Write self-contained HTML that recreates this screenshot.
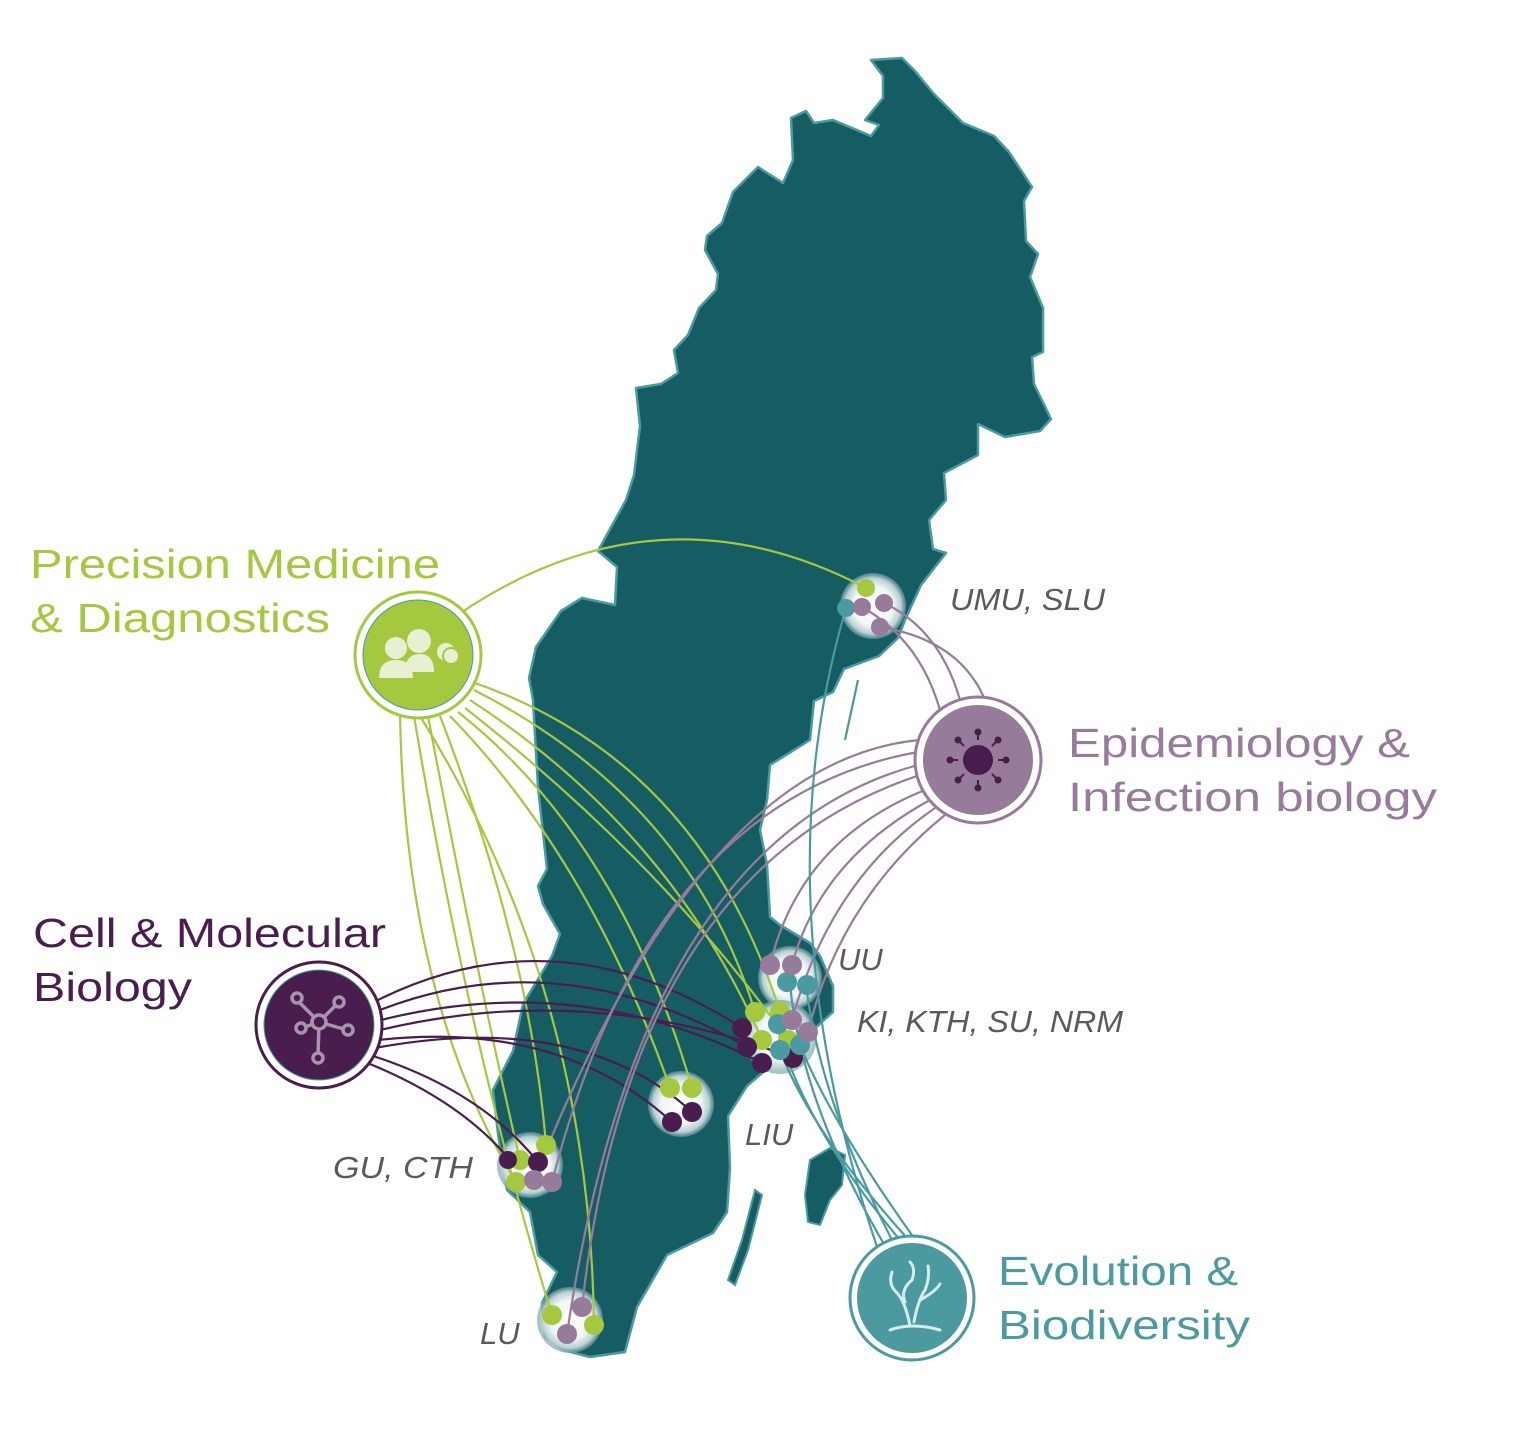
<!DOCTYPE html>
<html><head><meta charset="utf-8"><style>
html,body{margin:0;padding:0;background:#fff;}
svg{display:block;}
.t{font-family:"Liberation Sans",sans-serif;}
.lab{font-family:"Liberation Sans",sans-serif;font-style:italic;font-size:31px;fill:#5a5a5a;}
</style></head><body>
<svg width="1536" height="1447" viewBox="0 0 1536 1447" xmlns="http://www.w3.org/2000/svg">
<defs>
<radialGradient id="g" cx="50%" cy="50%" r="50%">
<stop offset="0" stop-color="#fff"/><stop offset="0.6" stop-color="#f2f6f6"/><stop offset="0.85" stop-color="#b9d0d2"/><stop offset="1" stop-color="#6f9ea2" stop-opacity="0.6"/>
</radialGradient>
</defs>
<path fill="#155c63" stroke="#4a9aa0" stroke-width="2.5" stroke-linejoin="round" d="M871,60 L902,58 915,71 934,94 963,123 994,136 1009,152 1032,187 1024,201 1026,241 1038,254 1030,277 1043,308 1043,352 1032,357 1034,384 1051,419 1040,431 1005,437 978,424 978,455 944,473 946,500 929,520 933,549 946,553 921,585 905,620 898,638 879,656 844,669 833,692 814,701 810,740 770,765 767,800 760,830 767,865 770,917 780,925 810,943 820,956 833,986 833,1012 813,1030 797,1064 780,1060 767,1069 747,1086 728,1116 730,1168 727,1212 713,1233 667,1255 637,1307 625,1352 590,1357 563,1350 545,1337 542,1303 557,1272 538,1255 530,1212 507,1190 498,1134 493,1090 513,1051 523,1004 552,956 560,934 543,904 538,886 547,869 538,787 533,700 529,678 536,647 561,611 582,598 615,605 617,567 598,551 626,500 634,475 640,426 636,388 661,384 678,373 674,350 688,335 699,308 716,290 718,274 705,250 707,236 722,223 733,192 758,167 783,183 793,160 791,118 806,111 814,123 833,120 871,136 879,125 865,120 883,98 883,76 Z"/>
<path fill="#155c63" stroke="#4a9aa0" stroke-width="2" d="M810,1160 L830,1148 845,1155 842,1185 830,1200 820,1225 808,1222 805,1195 Z"/>
<path fill="#155c63" stroke="#4a9aa0" stroke-width="2" d="M755,1190 L762,1195 748,1250 735,1285 728,1280 742,1240 Z"/>

<g fill="url(#g)">
<circle cx="873" cy="606" r="33"/><circle cx="790" cy="978" r="32"/><circle cx="780" cy="1037" r="37"/>
<circle cx="681" cy="1104" r="33"/><circle cx="530" cy="1165" r="33"/><circle cx="570" cy="1320" r="33"/>
</g>

<g fill="none" stroke="#a6c83f" stroke-width="2.2">
<path d="M462,612 Q660,480 866,588"/>
<path d="M472,682 Q700,760 780,1012"/>
<path d="M474,690 Q690,800 755,1012"/>
<path d="M470,700 Q670,830 762,1040"/>
<path d="M465,708 Q660,860 788,1040"/>
<path d="M458,712 Q620,840 692,1088"/>
<path d="M450,716 Q590,860 670,1088"/>
<path d="M440,716 Q530,950 546,1145"/>
<path d="M428,716 Q480,990 520,1160"/>
<path d="M400,714 Q405,1000 516,1182"/>
<path d="M414,716 Q470,1050 552,1315"/>
<path d="M420,716 Q590,990 594,1325"/>
</g>
<g fill="none" stroke="#4a1d4f" stroke-width="2.2">
<path d="M378,1000 Q560,910 742,1028"/>
<path d="M380,1010 Q560,940 747,1047"/>
<path d="M381,1020 Q580,970 762,1063"/>
<path d="M380,1030 Q590,980 793,1058"/>
<path d="M378,1040 Q560,1020 672,1122"/>
<path d="M375,1048 Q580,1010 692,1112"/>
<path d="M370,1055 Q480,1090 538,1162"/>
<path d="M365,1062 Q460,1100 510,1160"/>
</g>
<g fill="none" stroke="#977b9a" stroke-width="2.2">
<path d="M940,710 Q920,640 862,607"/>
<path d="M960,700 Q940,630 884,603"/>
<path d="M985,700 Q960,640 880,627"/>
<path d="M920,740 Q700,760 534,1180"/>
<path d="M918,752 Q650,800 552,1182"/>
<path d="M918,765 Q640,840 567,1334"/>
<path d="M920,775 Q630,870 582,1307"/>
<path d="M925,790 Q800,840 770,965"/>
<path d="M930,800 Q820,860 792,965"/>
<path d="M935,808 Q830,880 792,1020"/>
<path d="M945,815 Q840,900 808,1032"/>
</g>
<g fill="none" stroke="#4a9aa0" stroke-width="2.2">
<path d="M878,1250 Q760,900 846,608"/>
<path d="M885,1246 Q800,1100 790,983"/>
<path d="M893,1242 Q820,1100 806,985"/>
<path d="M900,1240 Q800,1120 777,1025"/>
<path d="M907,1238 Q810,1130 780,1050"/>
<path d="M914,1238 Q830,1120 800,1045"/>
<path d="M845,740 L858,680"/>
</g>

<g fill="#a6c83f">
<circle cx="866" cy="588" r="9"/><circle cx="755" cy="1012" r="10"/><circle cx="780" cy="1012" r="10"/><circle cx="762" cy="1040" r="10"/><circle cx="788" cy="1040" r="10"/>
<circle cx="670" cy="1088" r="10"/><circle cx="692" cy="1088" r="10"/><circle cx="546" cy="1145" r="10"/><circle cx="520" cy="1160" r="10"/><circle cx="516" cy="1182" r="10"/>
<circle cx="552" cy="1315" r="10"/><circle cx="594" cy="1325" r="10"/>
</g>
<g fill="#4a1d4f">
<circle cx="742" cy="1028" r="10"/><circle cx="747" cy="1047" r="10"/><circle cx="762" cy="1063" r="10"/><circle cx="793" cy="1058" r="10"/>
<circle cx="672" cy="1122" r="10"/><circle cx="692" cy="1112" r="10"/><circle cx="538" cy="1162" r="10"/><circle cx="508" cy="1160" r="9"/>
</g>
<g fill="#4a9aa0">
<circle cx="846" cy="608" r="9"/><circle cx="787" cy="982" r="10"/><circle cx="807" cy="985" r="10"/>
<circle cx="778" cy="1024" r="10"/><circle cx="780" cy="1050" r="10"/><circle cx="800" cy="1045" r="10"/>
</g>
<g fill="#977b9a">
<circle cx="862" cy="607" r="9"/><circle cx="884" cy="603" r="9"/><circle cx="880" cy="627" r="9"/>
<circle cx="770" cy="965" r="10"/><circle cx="792" cy="965" r="10"/><circle cx="792" cy="1020" r="10"/><circle cx="808" cy="1032" r="10"/>
<circle cx="534" cy="1180" r="10"/><circle cx="552" cy="1182" r="10"/><circle cx="567" cy="1334" r="10"/><circle cx="582" cy="1307" r="10"/>
</g>

<circle cx="418" cy="655" r="63" fill="#fff" stroke="#a6c83f" stroke-width="3"/>
<circle cx="418" cy="655" r="55" fill="#a6c83f" stroke="#4a9aa0" stroke-width="1"/>
<g fill="#e8f0d4">
<circle cx="396" cy="648" r="11"/><path d="M379,678 Q379,660 396,660 Q413,660 413,678 Z"/>
<circle cx="419" cy="641" r="12"/><path d="M405,672 Q405,654 420,654 Q434,654 434,672 Z"/>
<circle cx="446" cy="652" r="9"/><circle cx="451" cy="656" r="8" stroke="#a6c83f" stroke-width="2"/>
</g>

<circle cx="978" cy="760" r="63" fill="#fff" stroke="#977b9a" stroke-width="3"/>
<circle cx="978" cy="760" r="55" fill="#977b9a"/>
<g stroke="#4a1d4f" stroke-width="2" fill="#4a1d4f">
<circle cx="978" cy="760" r="14"/>
<path d="M978,740 V733 M978,780 V787 M958,760 H951 M998,760 H1005 M964,746 L959,741 M992,746 L997,741 M964,774 L959,779 M992,774 L997,779"/>
<circle cx="978" cy="732" r="2.5"/><circle cx="978" cy="788" r="2.5"/><circle cx="950" cy="760" r="2.5"/><circle cx="1006" cy="760" r="2.5"/>
<circle cx="958" cy="740" r="2.5"/><circle cx="998" cy="740" r="2.5"/><circle cx="958" cy="780" r="2.5"/><circle cx="998" cy="780" r="2.5"/>
</g>

<circle cx="319" cy="1025" r="63" fill="#fff" stroke="#4a1d4f" stroke-width="3"/>
<circle cx="319" cy="1025" r="55" fill="#4a1d4f" stroke="#4a9aa0" stroke-width="1"/>
<g stroke="#a894ae" stroke-width="3.5" fill="none">
<path d="M319,1022 L297,1000 M319,1022 L338,1003 M319,1022 L302,1028 M319,1022 L347,1030 M319,1022 L318,1056"/>
<circle cx="319" cy="1022" r="7" fill="#4a1d4f"/><circle cx="297" cy="998" r="5" fill="#4a1d4f"/><circle cx="339" cy="1002" r="5" fill="#4a1d4f"/>
<circle cx="301" cy="1028" r="5" fill="#4a1d4f"/><circle cx="348" cy="1030" r="5" fill="#4a1d4f"/><circle cx="318" cy="1058" r="5" fill="#4a1d4f"/>
</g>

<circle cx="912" cy="1298" r="62" fill="#fff" stroke="#4a9aa0" stroke-width="3"/>
<circle cx="912" cy="1298" r="55" fill="#4a9aa0"/>
<g stroke="#d8ebec" stroke-width="3" fill="none" stroke-linecap="round">
<path d="M890,1330 Q912,1322 940,1330"/>
<path d="M910,1326 Q905,1300 896,1292 Q888,1284 892,1272 M905,1302 Q900,1290 912,1280 Q916,1268 910,1262 M914,1322 Q918,1300 925,1290 Q930,1278 928,1266 M920,1300 Q935,1292 940,1284"/>
</g>

<g class="t" font-size="41" lengthAdjust="spacingAndGlyphs">
<text x="30" y="578" fill="#a6c83f" textLength="410" lengthAdjust="spacingAndGlyphs">Precision Medicine</text>
<text x="30" y="632" fill="#a6c83f" textLength="300" lengthAdjust="spacingAndGlyphs">&amp; Diagnostics</text>
<text x="1068" y="757" fill="#977b9a" textLength="342" lengthAdjust="spacingAndGlyphs">Epidemiology &amp;</text>
<text x="1068" y="811" fill="#977b9a" textLength="369" lengthAdjust="spacingAndGlyphs">Infection biology</text>
<text x="33" y="947" fill="#4a1d4f" textLength="353" lengthAdjust="spacingAndGlyphs">Cell &amp; Molecular</text>
<text x="33" y="1001" fill="#4a1d4f" textLength="159" lengthAdjust="spacingAndGlyphs">Biology</text>
<text x="998" y="1285" fill="#4a9aa0" textLength="240" lengthAdjust="spacingAndGlyphs">Evolution &amp;</text>
<text x="998" y="1339" fill="#4a9aa0" textLength="252" lengthAdjust="spacingAndGlyphs">Biodiversity</text>
</g>
<text class="lab" x="950" y="610" textLength="155" lengthAdjust="spacingAndGlyphs">UMU, SLU</text>
<text class="lab" x="838" y="970">UU</text>
<text class="lab" x="857" y="1032" textLength="266" lengthAdjust="spacingAndGlyphs">KI, KTH, SU, NRM</text>
<text class="lab" x="745" y="1145">LIU</text>
<text class="lab" x="333" y="1178" textLength="140" lengthAdjust="spacingAndGlyphs">GU, CTH</text>
<text class="lab" x="480" y="1344">LU</text>
</svg>
</body></html>
